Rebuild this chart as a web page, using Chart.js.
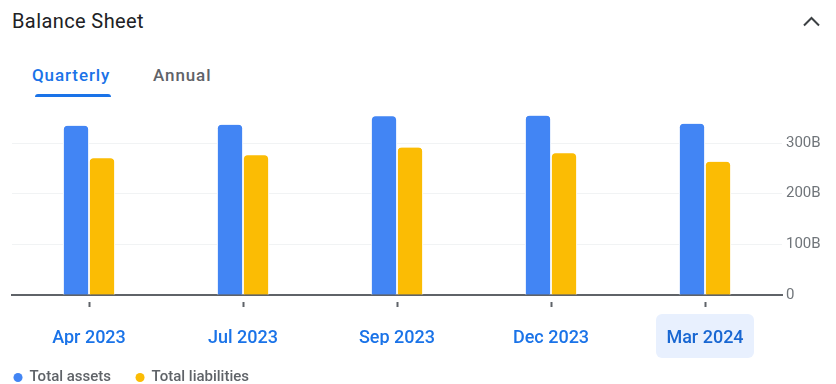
<!DOCTYPE html>
<html><head><meta charset="utf-8">
<script src="https://cdn.jsdelivr.net/npm/chart.js@4"></script>
<style>
html,body{margin:0;padding:0;width:836px;height:384px;overflow:hidden;background:#fff;font-family:Roboto,Arial,sans-serif;}
#title{position:absolute;left:12px;top:11px;font-size:20px;line-height:20px;color:#202124;white-space:nowrap;letter-spacing:0.4px;}
.tab{position:absolute;top:67px;font-size:17px;line-height:17px;font-weight:500;white-space:nowrap;letter-spacing:0.9px;}
#q{left:32px;color:#1a73e8}
#a{left:153px;color:#5f6368}
#ul{position:absolute;left:35px;top:94px;width:76px;height:3px;background:#1a73e8;border-radius:3px 3px 0 0;}
#caret{position:absolute;left:800px;top:10px;}
#wrap{position:absolute;left:-11px;top:89px;width:847px;height:306px;}
</style></head><body>
<div id="title">Balance Sheet</div>
<svg id="caret" width="24" height="24" viewBox="0 0 24 24"><polyline points="4,15.5 11.5,8 19,15.5" fill="none" stroke="#3c4043" stroke-width="2"/></svg>
<div class="tab" id="q">Quarterly</div>
<div class="tab" id="a">Annual</div>
<div id="ul"></div>
<div id="wrap"><canvas id="c"></canvas></div>
<script>
const categories = ['Apr 2023', 'Jul 2023', 'Sep 2023', 'Dec 2023', 'Mar 2024'];
const totalAssets = [334, 336, 353, 354, 338];
const totalLiabilities = [270, 276, 291, 280, 263];
const yTickValues = [0, 100, 200, 300];
const seriesNames = ['Total assets', 'Total liabilities'];

const highlightPlugin = {
  id: 'highlight',
  beforeDraw(chart) {
    const x = chart.scales.x, ctx = chart.ctx;
    const cx = x.getPixelForValue(categories.length - 1);
    const w = 98, h = 44, top = x.top + 19;
    ctx.save();
    ctx.fillStyle = '#e8f0fe';
    ctx.beginPath();
    ctx.roundRect(cx - w / 2, top, w, h, 6);
    ctx.fill();
    ctx.restore();
  }
};

const barCommon = {
  xAxisID: 'x',
  yAxisID: 'y',
  barThickness: 26,
  borderColor: '#ffffff',
  borderWidth: {left: 1.2, right: 1.2, top: 0, bottom: 0},
  borderRadius: {topLeft: 5, topRight: 5, bottomLeft: 0, bottomRight: 0},
  borderSkipped: 'bottom'
};

new Chart(document.getElementById('c'), {
  type: 'bar',
  data: {
    labels: categories,
    datasets: [
      Object.assign({label: seriesNames[0], data: totalAssets, backgroundColor: '#4285f4'}, barCommon),
      Object.assign({label: seriesNames[1], data: totalLiabilities, backgroundColor: '#fbbc04'}, barCommon)
    ]
  },
  options: {
    responsive: true,
    maintainAspectRatio: false,
    animation: false,
    layout: {padding: {top: 0, left: 0, right: 0, bottom: 0}},
    plugins: {
      tooltip: {enabled: false},
      legend: {
        position: 'bottom',
        align: 'start',
        labels: {
          usePointStyle: true,
          pointStyle: 'circle',
          boxWidth: 8,
          boxHeight: 6.4,
          padding: 25,
          color: '#5f6368',
          font: {family: 'Roboto', size: 15, weight: '500'},
          generateLabels(chart) {
            const items = Chart.defaults.plugins.legend.labels.generateLabels(chart);
            items.forEach(i => { i.lineWidth = 0; i.strokeStyle = 'rgba(0,0,0,0)'; });
            return items;
          }
        }
      }
    },
    scales: {
      pad: {
        type: 'linear', position: 'left', display: true,
        grid: {display: false}, ticks: {display: false}, border: {display: false},
        afterFit(s) { s.width = 23; }
      },
      x: {
        offset: true,
        grid: {
          display: true, offset: false, drawOnChartArea: false, drawTicks: true,
          tickLength: 12, tickWidth: 2, tickColor: '#5f6368',
          tickBorderDash: [5, 6], tickBorderDashOffset: 5
        },
        border: {display: true, color: '#5f6368', width: 2},
        ticks: {
          padding: 21,
          color: (c) => c.index === categories.length - 1 ? '#1967d2' : '#1a73e8',
          font: {family: 'Roboto', size: 18, weight: '500'}
        },
        afterFit(s) { s.height = 50; }
      },
      y: {
        position: 'right',
        min: 0,
        max: 381,
        grid: {color: '#f1f3f4', lineWidth: 1, drawTicks: false},
        border: {display: false},
        ticks: {
          padding: 4,
          color: '#70757a',
          font: {family: 'Roboto', size: 15},
          callback: (v) => v === 0 ? '0' : v + 'B'
        },
        afterBuildTicks(s) { s.ticks = yTickValues.map(v => ({value: v})); },
        afterFit(s) { s.width = 54; }
      }
    }
  },
  plugins: [highlightPlugin]
});
</script>
</body></html>
